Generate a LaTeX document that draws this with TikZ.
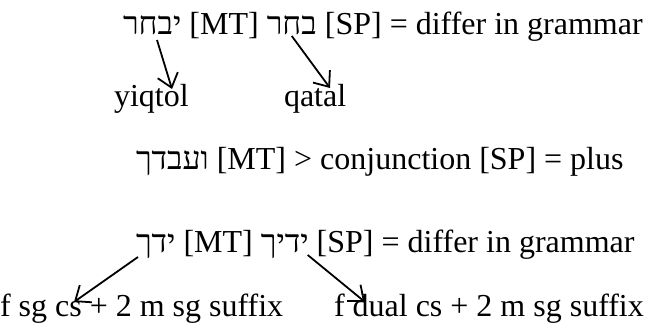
\documentclass[tikz,border=0pt]{standalone}
\usepackage{fontspec}
\setmainfont{Liberation Serif}
\newfontfamily\heb[Script=Hebrew]{Liberation Serif}
\TeXXeTstate=1
\usetikzlibrary{arrows.meta}
\begin{document}
\begin{tikzpicture}[x=1pt,y=1pt,
  txt/.style={inner sep=0pt, outer sep=0pt, font=\fontsize{32}{38}\selectfont},
  arr/.style={-{Straight Barb[length=13pt,width=21pt]}, line width=1.8pt}]
\useasboundingbox (0,0) rectangle (648,329);
\def\sp{8pt}
% line 1
\node[txt,anchor=base west] (h1) at (123,294) {\heb\beginR יבחר\endR};
\node[txt,anchor=base west] (m1) at ([xshift=\sp]h1.base east) {[MT]};
\node[txt,anchor=base west] (h2) at ([xshift=\sp]m1.base east) {\heb\beginR בחר\endR};
\node[txt,anchor=base west] (r1) at ([xshift=\sp]h2.base east) {[SP] = differ in grammar};
% line 2
\node[txt,anchor=base west] (yiq) at (114,222) {yiqtol};
\node[txt,anchor=base west] (qat) at (284,222) {qatal};
% line 3
\node[txt,anchor=base west] (h3) at (136,159) {\heb\beginR ועבדך\endR};
\node[txt,anchor=base west] (r3) at ([xshift=\sp]h3.base east) {[MT] > conjunction [SP] = plus};
% line 4
\node[txt,anchor=base west] (h4) at (136,76) {\heb\beginR ידך\endR};
\node[txt,anchor=base west] (m4) at ([xshift=\sp]h4.base east) {[MT]};
\node[txt,anchor=base west] (h5) at ([xshift=\sp]m4.base east) {\heb\beginR ידיך\endR};
\node[txt,anchor=base west] (r4) at ([xshift=\sp]h5.base east) {[SP] = differ in grammar};
% line 5
\node[txt,anchor=base west] (g1) at (0,12) {f sg cs + 2 m sg suffix};
\node[txt,anchor=base west] (g2) at (334,12) {f dual cs + 2 m sg suffix};
% arrows
\draw[arr] ([shift={(34,-5)}]h1.base west) -- ([shift={(58,18)}]yiq.base west);
\draw[arr] ([shift={(25,-1)}]h2.base west) -- ([shift={(46,19)}]qat.base west);
\draw[arr] ([shift={(2,-4)}]h4.base west) -- ([shift={(74,15)}]g1.base west);
\draw[arr] ([shift={(-1,-2)}]h5.base east) -- ([shift={(31,15)}]g2.base west);
\end{tikzpicture}
\end{document}
